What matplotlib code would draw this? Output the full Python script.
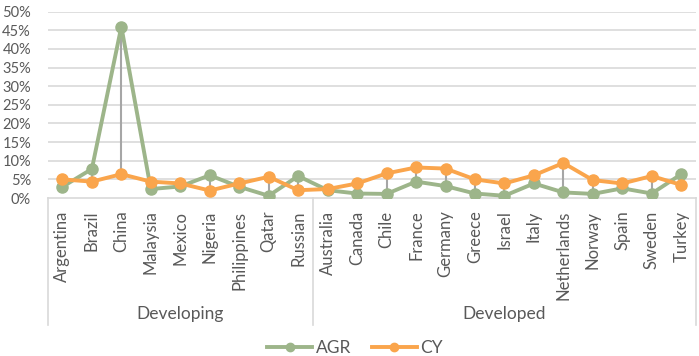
import matplotlib.pyplot as plt
from matplotlib.ticker import PercentFormatter
import numpy as np

# data
developing = ["Argentina", "Brazil", "China", "Malaysia", "Mexico", "Nigeria",
              "Philippines", "Qatar", "Russian"]
developed = ["Australia", "Canada", "Chile", "France", "Germany", "Greece",
             "Israel", "Italy", "Netherlands", "Norway", "Spain", "Sweden", "Turkey"]
countries = developing + developed
group_names = ["Developing", "Developed"]

agr = [3.0, 7.8, 46.0, 2.4, 3.1, 6.1, 3.0, 0.6, 5.9,
       2.1, 1.2, 1.1, 4.4, 3.2, 1.2, 0.6, 3.9, 1.5, 1.1, 2.6, 1.2, 6.4]
cy = [5.0, 4.4, 6.4, 4.4, 3.9, 2.0, 3.9, 5.7, 2.1,
      2.4, 3.9, 6.6, 8.2, 7.9, 5.0, 3.9, 6.1, 9.4, 4.8, 3.9, 5.9, 3.5]

green = "#9db58a"
orange = "#faa54c"
text_gray = "#595959"
font = "Lato"

agr = np.array(agr) / 100
cy = np.array(cy) / 100
x = np.arange(len(countries))

fig = plt.figure(figsize=(6.99, 3.56), dpi=100)
ax = fig.add_axes([0.0682, 0.4438, 0.9275, 0.5233])

# gridlines
for v in np.arange(0.05, 0.51, 0.05):
    ax.axhline(v, color="#d9d9d9", linewidth=1.2, zorder=0)

# high-low lines
ax.vlines(x, np.minimum(agr, cy), np.maximum(agr, cy), color="#a6a6a6",
          linewidth=1.5, zorder=1)

agr_line, = ax.plot(x, agr, color=green, linewidth=2.8, marker="o",
                    markersize=8, label="AGR", zorder=3)
cy_line, = ax.plot(x, cy, color=orange, linewidth=2.8, marker="o",
                   markersize=8, label="CY", zorder=4)

ax.set_xlim(-0.5, len(countries) - 0.5)
ax.set_ylim(0, 0.5)
ax.set_yticks(np.arange(0, 0.51, 0.05))
ax.yaxis.set_major_formatter(PercentFormatter(1.0, decimals=0))
ax.set_xticks(x)
ax.set_xticklabels(countries, rotation=90, fontsize=12, color=text_gray,
                   family=font)
for lab in ax.get_yticklabels():
    lab.set_fontsize(10.5)
    lab.set_color(text_gray)
    lab.set_family(font)
ax.tick_params(axis="both", length=0)
ax.tick_params(axis="x", pad=9)
ax.tick_params(axis="y", pad=12)

for side in ["top", "right", "left"]:
    ax.spines[side].set_visible(False)
ax.spines["bottom"].set_color("#d9d9d9")
ax.spines["bottom"].set_linewidth(1.2)

# multi-level category box
trans = ax.get_xaxis_transform()
bottom = -0.682
for xb in [-0.5, len(developing) - 0.5, len(countries) - 0.5]:
    ax.plot([xb, xb], [0, bottom], transform=trans, color="#d9d9d9",
            linewidth=1.2, clip_on=False)
centers = [(len(developing) - 1) / 2, len(developing) + (len(developed) - 1) / 2]
for name, cx in zip(group_names, centers):
    ax.text(cx, -0.62, name, transform=trans, ha="center", va="center",
            fontsize=12.5, color=text_gray, family=font)

fig.legend(handles=[agr_line, cy_line], loc="center", ncol=2,
           bbox_to_anchor=(0.508, 0.022), frameon=False,
           labelcolor=text_gray, handlelength=2.6, columnspacing=1.2,
           handletextpad=0.2, markerscale=0.75,
           prop={"family": font, "size": 12.5})

fig.savefig("out.png", dpi=100)
